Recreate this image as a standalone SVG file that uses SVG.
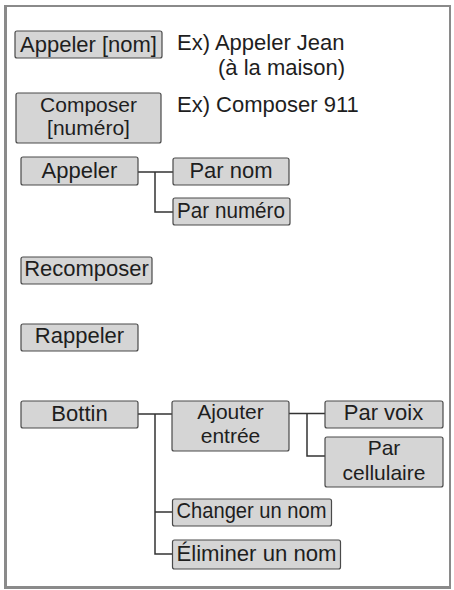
<svg xmlns="http://www.w3.org/2000/svg" width="454" height="590" viewBox="0 0 454 590">
<style>
.box{fill:#d5d5d5;stroke:#4a4a4a;stroke-width:1.2}
.t{font-family:"Liberation Sans",Arial,sans-serif;font-size:22px;fill:#1e1e1e}
.m{font-size:21px}
.c{text-anchor:middle}
.ln{fill:none;stroke:#333;stroke-width:1.5}
</style>
<rect width="454" height="590" fill="#fff"/>
<g id="frame" fill="none" stroke="#8a8a8a">
<line x1="5.5" y1="5" x2="5.5" y2="589" stroke-width="3"/>
<line x1="4" y1="6" x2="451" y2="6" stroke-width="2"/>
<line x1="4" y1="587.5" x2="451" y2="587.5" stroke-width="3"/>
<line x1="450" y1="5" x2="450" y2="589" stroke-width="2"/>
</g>
<g id="connectors">
<path class="ln" d="M138 172H173M155 172V212H173"/>
<path class="ln" d="M138 414H172M155 414V554H172M155 512H172"/>
<path class="ln" d="M289 413.5H325M307 413.5V456H325"/>
</g>
<g id="n-appeler-nom"><rect class="box" x="15" y="31" width="147" height="27" rx="2"/><text class="t c" x="88.5" y="52">Appeler [nom]</text></g>
<g id="ex1"><text class="t" x="177" y="50">Ex) Appeler Jean</text><text class="t" x="218" y="75">(à la maison)</text></g>
<g id="n-composer"><rect class="box" x="16" y="93" width="145" height="50" rx="2"/><text class="t m c" x="88.5" y="112">Composer</text><text class="t m c" x="88.5" y="135">[numéro]</text></g>
<g id="ex2"><text class="t" x="177" y="112">Ex) Composer 911</text></g>
<g id="n-appeler"><rect class="box" x="21" y="157" width="117" height="28" rx="2"/><text class="t c" x="79.5" y="178">Appeler</text></g>
<g id="n-par-nom"><rect class="box" x="173" y="158" width="116" height="27" rx="2"/><text class="t c" x="231" y="178">Par nom</text></g>
<g id="n-par-numero"><rect class="box" x="173" y="198" width="117" height="27" rx="2"/><text class="t" x="177" y="218" textLength="108" lengthAdjust="spacingAndGlyphs">Par numéro</text></g>
<g id="n-recomposer"><rect class="box" x="21" y="257" width="131" height="27" rx="2"/><text class="t c" x="86.5" y="276">Recomposer</text></g>
<g id="n-rappeler"><rect class="box" x="21" y="324" width="117" height="27" rx="2"/><text class="t c" x="79.5" y="343">Rappeler</text></g>
<g id="n-bottin"><rect class="box" x="21" y="401" width="117" height="27" rx="2"/><text class="t c" x="79.5" y="421">Bottin</text></g>
<g id="n-ajouter"><rect class="box" x="172" y="401" width="117" height="50" rx="2"/><text class="t m c" x="230.5" y="419">Ajouter</text><text class="t m c" x="230.5" y="443">entrée</text></g>
<g id="n-par-voix"><rect class="box" x="325" y="401" width="118" height="27" rx="2"/><text class="t c" x="383.5" y="420">Par voix</text></g>
<g id="n-par-cellulaire"><rect class="box" x="325" y="437" width="118" height="50" rx="2"/><text class="t m c" x="384" y="455">Par</text><text class="t m c" x="384" y="480">cellulaire</text></g>
<g id="n-changer"><rect class="box" x="172.5" y="499" width="159" height="27" rx="2"/><text class="t" x="176.5" y="518" textLength="150" lengthAdjust="spacingAndGlyphs">Changer un nom</text></g>
<g id="n-eliminer"><rect class="box" x="172.5" y="540" width="168" height="29" rx="2"/><text class="t" x="176.5" y="561" textLength="160" lengthAdjust="spacingAndGlyphs">Éliminer un nom</text></g>
</svg>
